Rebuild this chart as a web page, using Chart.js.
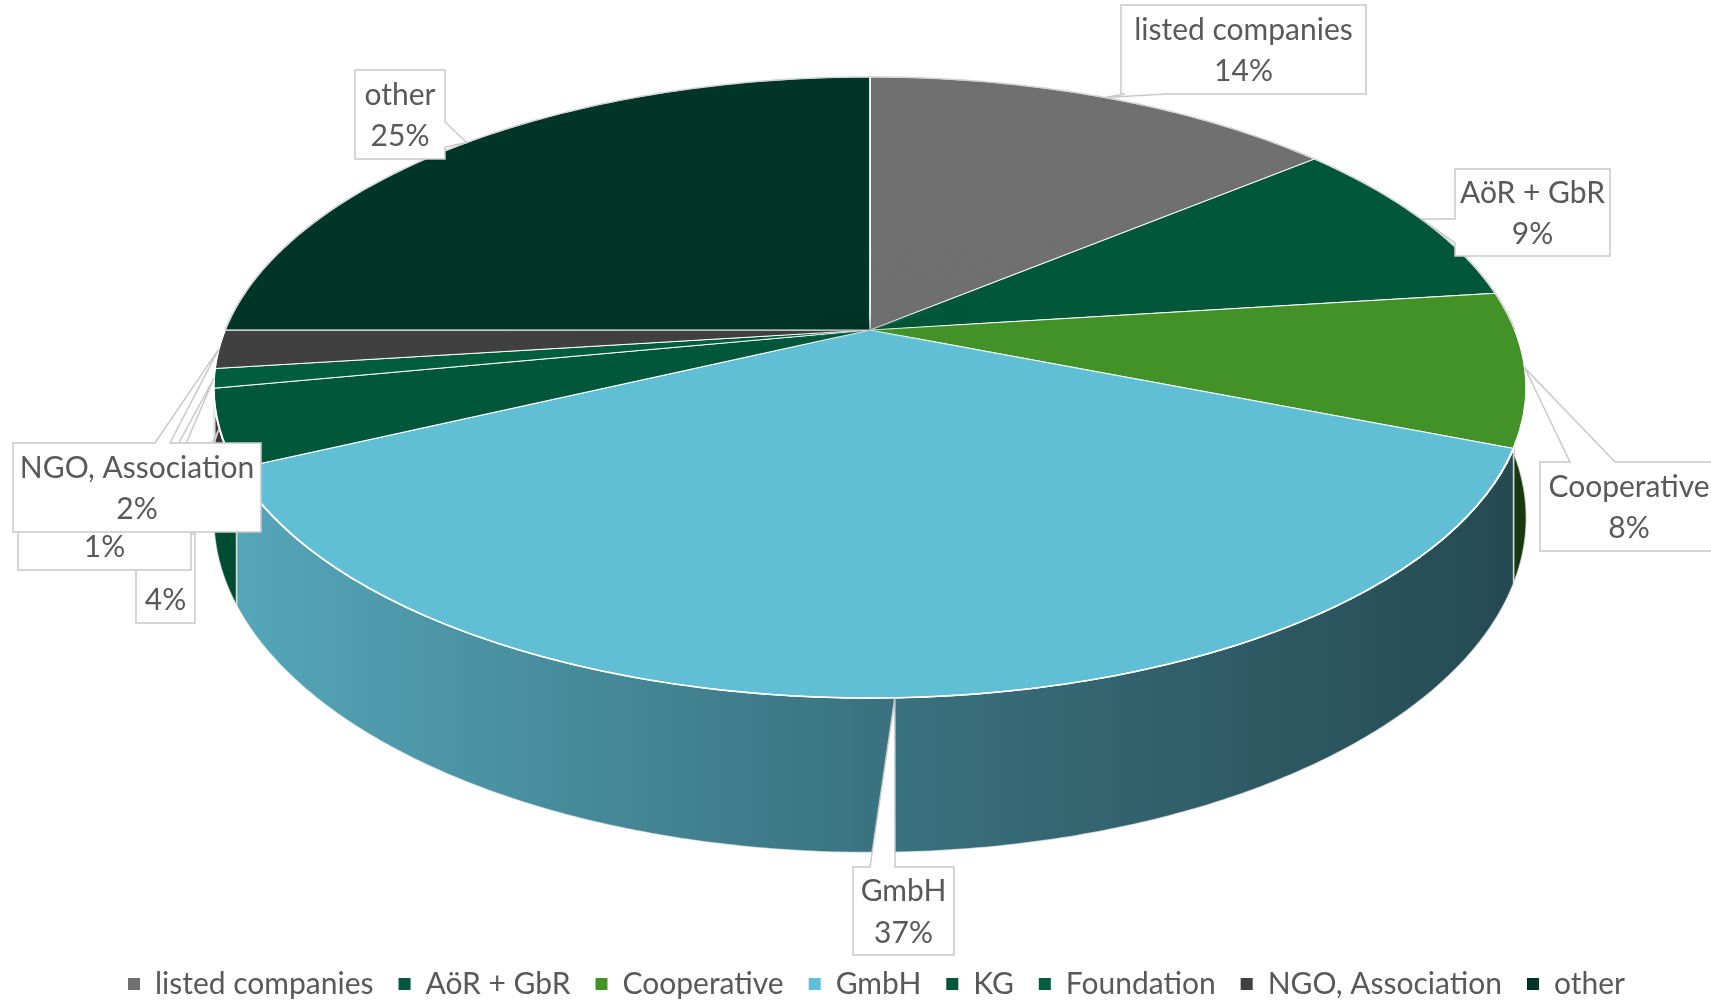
<!DOCTYPE html>
<html>
<head>
<meta charset="utf-8">
<title>Legal forms</title>
<script src="https://cdn.jsdelivr.net/npm/chart.js@4.4.1/dist/chart.umd.min.js"></script>
<style>
  html, body { margin: 0; padding: 0; background: #fff; }
  canvas { display: block; }
</style>
</head>
<body>
<canvas id="chart" width="1711" height="1004"></canvas>
<script>
const categories = ['listed companies', 'AöR + GbR', 'Cooperative', 'GmbH', 'KG', 'Foundation', 'NGO, Association', 'other'];
const shares = [14, 9, 8, 37, 4, 1, 2, 25];
const sliceColors = ['#707070', '#00573a', '#439228', '#61bfd5', '#00573a', '#005e3e', '#404040', '#003527'];

// 3d look: centre, size, tilt, perspective and depth of the pie on screen
const persp = { cx: 870, cy: 330, s: 645, q: 0.465, p: 0.185, depth: 126 };

// callout boxes (x, y, w, h) and where their pointer leaves the box
const callouts = [
  { x: 1121, y: 5, w: 245, h: 89, edge: 'bottom', from: 4, to: 45 },
  { x: 1455, y: 169, w: 155, h: 87, edge: 'left', from: 50, to: 74 },
  { x: 1540, y: 462, w: 178, h: 89, edge: 'top', from: 30, to: 75 },
  { x: 853, y: 867, w: 101, h: 88, edge: 'top', from: 17, to: 42 },
  { x: 136, y: 534, w: 59, h: 89, edge: 'top', from: 30, to: 45 },
  { x: 18, y: 481, w: 173, h: 89, edge: 'top', from: 140, to: 152 },
  { x: 13, y: 443, w: 248, h: 89, edge: 'top', from: 142, to: 157 },
  { x: 355, y: 70, w: 90, h: 89, edge: 'right', from: 52, to: 77 }
];

const textColor = '#595959';
const fontFamily = 'Lato';
const fontSize = 30;

function project(t, down) {
  const w = 1 / (1 - persp.p * Math.sin(t));
  return {
    x: persp.cx + persp.s * Math.cos(t) * w,
    y: persp.cy + persp.s * persp.q * Math.sin(t) * w + (down ? persp.depth * w : 0)
  };
}

function rimPath(ctx, a, b, move) {
  for (let i = 0; i <= 200; i++) {
    const p = project(a + (b - a) * i / 200);
    if (i === 0 && move) ctx.moveTo(p.x, p.y); else ctx.lineTo(p.x, p.y);
  }
}

function sidePath(ctx, a, b) {
  const n = Math.max(2, Math.ceil((b - a) / 0.01));
  ctx.beginPath();
  for (let i = 0; i <= n; i++) {
    const p = project(a + (b - a) * i / n, false);
    if (i === 0) ctx.moveTo(p.x, p.y); else ctx.lineTo(p.x, p.y);
  }
  for (let i = n; i >= 0; i--) {
    const p = project(a + (b - a) * i / n, true);
    ctx.lineTo(p.x, p.y);
  }
  ctx.closePath();
}

function calloutPath(ctx, c, tip) {
  const { x, y, w, h } = c;
  ctx.beginPath();
  ctx.moveTo(x, y);
  if (c.edge === 'top') { ctx.lineTo(x + c.from, y); ctx.lineTo(tip.x, tip.y); ctx.lineTo(x + c.to, y); }
  ctx.lineTo(x + w, y);
  if (c.edge === 'right') { ctx.lineTo(x + w, y + c.from); ctx.lineTo(tip.x, tip.y); ctx.lineTo(x + w, y + c.to); }
  ctx.lineTo(x + w, y + h);
  if (c.edge === 'bottom') { ctx.lineTo(x + c.to, y + h); ctx.lineTo(tip.x, tip.y); ctx.lineTo(x + c.from, y + h); }
  ctx.lineTo(x, y + h);
  if (c.edge === 'left') { ctx.lineTo(x, y + c.to); ctx.lineTo(tip.x, tip.y); ctx.lineTo(x, y + c.from); }
  ctx.closePath();
}

const pie3d = {
  id: 'pie3d',
  beforeDatasetDraw() {
    return false; // drawn in perspective below
  },
  afterDatasetsDraw(chart) {
    const ctx = chart.ctx;
    const arcs = chart.getDatasetMeta(0).data;
    const ax = arcs[0].x, ay = arcs[0].y, R = arcs[0].outerRadius;

    // side walls (front half only)
    const shade = ctx.createLinearGradient(persp.cx - 656, 0, persp.cx + 656, 0);
    shade.addColorStop(0, 'rgba(0,0,0,0.12)');
    shade.addColorStop(0.5, 'rgba(0,0,0,0.40)');
    shade.addColorStop(1, 'rgba(0,0,0,0.62)');
    arcs.forEach((arc, i) => {
      const a = Math.max(arc.startAngle, 0);
      const b = Math.min(arc.endAngle, Math.PI);
      if (b <= a) return;
      ctx.save();
      sidePath(ctx, a, b);
      ctx.fillStyle = sliceColors[i];
      ctx.fill();
      ctx.fillStyle = shade;
      ctx.fill();
      ctx.strokeStyle = 'rgba(255,255,255,0.7)';
      ctx.lineWidth = 1.5;
      ctx.stroke();
      ctx.restore();
    });

    // rough underlay of the top face (back and front half squashed separately)
    const sx = persp.s / R;
    [[-1, persp.q / (1 + persp.p)], [1, persp.q / (1 - persp.p)]].forEach(([side, k]) => {
      ctx.save();
      ctx.beginPath();
      rimPath(ctx, 0, 2 * Math.PI, true);
      ctx.closePath();
      ctx.clip();
      ctx.beginPath();
      if (side < 0) ctx.rect(0, 0, chart.width, persp.cy + 0.5);
      else ctx.rect(0, persp.cy - 0.5, chart.width, chart.height);
      ctx.clip();
      ctx.setTransform(sx, 0, 0, k * sx, persp.cx - sx * ax, persp.cy - k * sx * ay);
      arcs.forEach(arc => arc.draw(ctx));
      ctx.restore();
    });

    // top face: chart's own arcs, mapped sector by sector
    const step = Math.PI / 90;
    const eps = 0.006;
    for (let t0 = -Math.PI / 2; t0 < 1.5 * Math.PI - 1e-9; t0 += step) {
      const t1 = t0 + step;
      const p0 = project(t0), p1 = project(t1);
      const v0x = p0.x - persp.cx, v0y = p0.y - persp.cy;
      const v1x = p1.x - persp.cx, v1y = p1.y - persp.cy;
      const u0x = R * Math.cos(t0), u0y = R * Math.sin(t0);
      const u1x = R * Math.cos(t1), u1y = R * Math.sin(t1);
      const det = u0x * u1y - u1x * u0y;
      const m11 = (v0x * u1y - v1x * u0y) / det;
      const m12 = (-v0x * u1x + v1x * u0x) / det;
      const m21 = (v0y * u1y - v1y * u0y) / det;
      const m22 = (-v0y * u1x + v1y * u0x) / det;
      ctx.save();
      ctx.setTransform(m11, m21, m12, m22,
        persp.cx - (m11 * ax + m12 * ay),
        persp.cy - (m21 * ax + m22 * ay));
      ctx.beginPath();
      ctx.moveTo(ax, ay);
      ctx.lineTo(ax + 1.3 * R * Math.cos(t0 - eps), ay + 1.3 * R * Math.sin(t0 - eps));
      ctx.lineTo(ax + 1.3 * R * Math.cos(t1 + eps), ay + 1.3 * R * Math.sin(t1 + eps));
      ctx.closePath();
      ctx.clip();
      arcs.forEach(arc => {
        if (arc.startAngle <= t1 + eps && arc.endAngle >= t0 - eps) arc.draw(ctx);
      });
      ctx.restore();
    }

    // rim of the top face
    ctx.save();
    ctx.lineWidth = 1.5;
    ctx.strokeStyle = '#d4d4d4';
    ctx.beginPath();
    rimPath(ctx, Math.PI, 2 * Math.PI, true);
    ctx.stroke();
    ctx.strokeStyle = 'rgba(255,255,255,0.9)';
    ctx.beginPath();
    rimPath(ctx, 0, Math.PI, true);
    ctx.stroke();
    ctx.restore();

    // data labels
    ctx.save();
    ctx.font = fontSize + 'px ' + fontFamily;
    ctx.textAlign = 'center';
    ctx.textBaseline = 'middle';
    arcs.forEach((arc, i) => {
      const c = callouts[i];
      const tip = project((arc.startAngle + arc.endAngle) / 2);
      calloutPath(ctx, c, tip);
      ctx.fillStyle = '#fff';
      ctx.fill();
      ctx.strokeStyle = '#c9c9c9';
      ctx.lineWidth = 1.5;
      ctx.stroke();
      ctx.fillStyle = textColor;
      ctx.fillText(categories[i], c.x + c.w / 2, c.y + c.h * 0.28);
      ctx.fillText(shares[i] + '%', c.x + c.w / 2, c.y + c.h * 0.75);
    });
    ctx.restore();
  }
};

new Chart(document.getElementById('chart'), {
  type: 'pie',
  data: {
    labels: categories,
    datasets: [{
      data: shares,
      backgroundColor: sliceColors,
      borderColor: '#ffffff',
      borderWidth: 2,
      clip: false
    }]
  },
  options: {
    responsive: false,
    animation: false,
    devicePixelRatio: 1,
    events: [],
    radius: 645,
    layout: { padding: { left: 42, bottom: -5 } },
    plugins: {
      tooltip: { enabled: false },
      legend: {
        position: 'bottom',
        labels: {
          boxWidth: 12,
          boxHeight: 12,
          padding: 25,
          color: textColor,
          font: { family: fontFamily, size: fontSize },
          generateLabels: () => categories.map((c, i) => ({
            text: c,
            fillStyle: sliceColors[i],
            strokeStyle: sliceColors[i],
            lineWidth: 0,
            fontColor: textColor,
            hidden: false,
            index: i
          }))
        }
      }
    }
  },
  plugins: [pie3d]
});
</script>
</body>
</html>
